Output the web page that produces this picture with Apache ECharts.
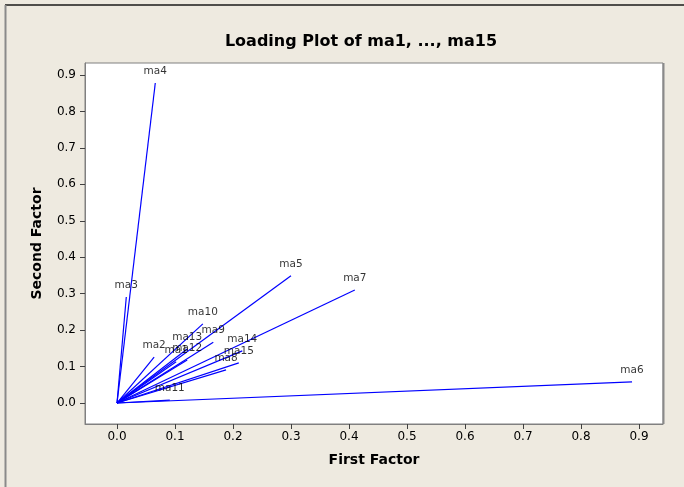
<!DOCTYPE html>
<html>
<head>
<meta charset="utf-8">
<script src="https://cdn.jsdelivr.net/npm/echarts@6/dist/echarts.min.js"></script>
<style>
  html, body { margin: 0; padding: 0; background: #eeeae0; }
  #chart { width: 684px; height: 487px; }
</style>
</head>
<body>
<div id="chart"></div>
<script>
// Factor loadings (first factor, second factor) for each variable
const variables = ['ma1', 'ma2', 'ma3', 'ma4', 'ma5', 'ma6', 'ma7', 'ma8',
                   'ma9', 'ma10', 'ma11', 'ma12', 'ma13', 'ma14', 'ma15'];
const firstFactor  = [0.102, 0.064, 0.016, 0.066, 0.300, 0.888, 0.410, 0.188,
                      0.166, 0.148, 0.091, 0.121, 0.121, 0.216, 0.210];
const secondFactor = [0.113, 0.126, 0.291, 0.878, 0.349, 0.058, 0.310, 0.091,
                      0.167, 0.217, 0.008, 0.118, 0.148, 0.143, 0.110];
const tickValues = [0.0, 0.1, 0.2, 0.3, 0.4, 0.5, 0.6, 0.7, 0.8, 0.9];

const FONT = 'DejaVu Sans';
const BLUE = '#0000ff';

// One segment from the origin to every loading point
const segmentSeries = variables.map((name, i) => ({
  name: name,
  type: 'line',
  data: [[0, 0], [firstFactor[i], secondFactor[i]]],
  symbol: 'none',
  silent: true,
  lineStyle: { color: BLUE, width: 1.2 },
  z: 2
}));

// Variable names written just above each segment's end
const labelSeries = {
  type: 'scatter',
  data: variables.map((name, i) => ({ name: name, value: [firstFactor[i], secondFactor[i]] })),
  symbolSize: 0,
  silent: true,
  label: {
    show: true,
    position: 'top',
    distance: 6,
    formatter: p => p.name,
    fontFamily: FONT,
    fontSize: 10.5,
    color: '#000'
  },
  z: 3
};

const axisCommon = {
  type: 'value',
  splitLine: { show: false },
  axisLine: { show: true, onZero: false, lineStyle: { color: '#808080', width: 1 } },
  axisTick: { show: true, length: 5, lineStyle: { color: '#404040' }, customValues: tickValues },
  axisLabel: {
    customValues: tickValues,
    formatter: v => v.toFixed(1),
    fontFamily: FONT,
    fontSize: 12,
    color: '#000'
  },
  nameLocation: 'middle',
  nameTextStyle: { fontFamily: FONT, fontSize: 14, fontWeight: 'bold', color: '#000' }
};

const chart = echarts.init(document.getElementById('chart'), null, { renderer: 'canvas' });
chart.setOption({
  backgroundColor: '#eeeae0',
  animation: false,
  title: {
    text: 'Loading Plot of ma1, ..., ma15',
    left: 356,
    top: 29,
    textAlign: 'center',
    textStyle: { fontFamily: FONT, fontSize: 16, fontWeight: 'bold', color: '#000' }
  },
  grid: {
    left: 85, right: 21, top: 63, bottom: 63,
    show: true,
    backgroundColor: '#ffffff',
    borderColor: '#808080',
    borderWidth: 1
  },
  xAxis: Object.assign({}, axisCommon, {
    min: -0.0552, max: 0.9414,
    name: 'First Factor',
    nameGap: 29,
    axisLabel: Object.assign({}, axisCommon.axisLabel, { margin: 7 })
  }),
  yAxis: Object.assign({}, axisCommon, {
    min: -0.0576, max: 0.933,
    name: 'Second Factor',
    nameGap: 41,
    axisLabel: Object.assign({}, axisCommon.axisLabel, { margin: 9 })
  }),
  graphic: [
    // outer frame edges
    { type: 'line', shape: { x1: 5, y1: 5, x2: 684, y2: 5 }, style: { stroke: '#1a1a1a', lineWidth: 1.5 }, z: 10 },
    { type: 'line', shape: { x1: 5.5, y1: 5, x2: 5.5, y2: 487 }, style: { stroke: '#8a8a8a', lineWidth: 2 }, z: 10 },
    // darker right edge of the plot box
    { type: 'line', shape: { x1: 663.5, y1: 63, x2: 663.5, y2: 424 }, style: { stroke: '#8a8a8a', lineWidth: 2 }, z: 10 }
  ],
  series: segmentSeries.concat([labelSeries])
});
</script>
</body>
</html>
